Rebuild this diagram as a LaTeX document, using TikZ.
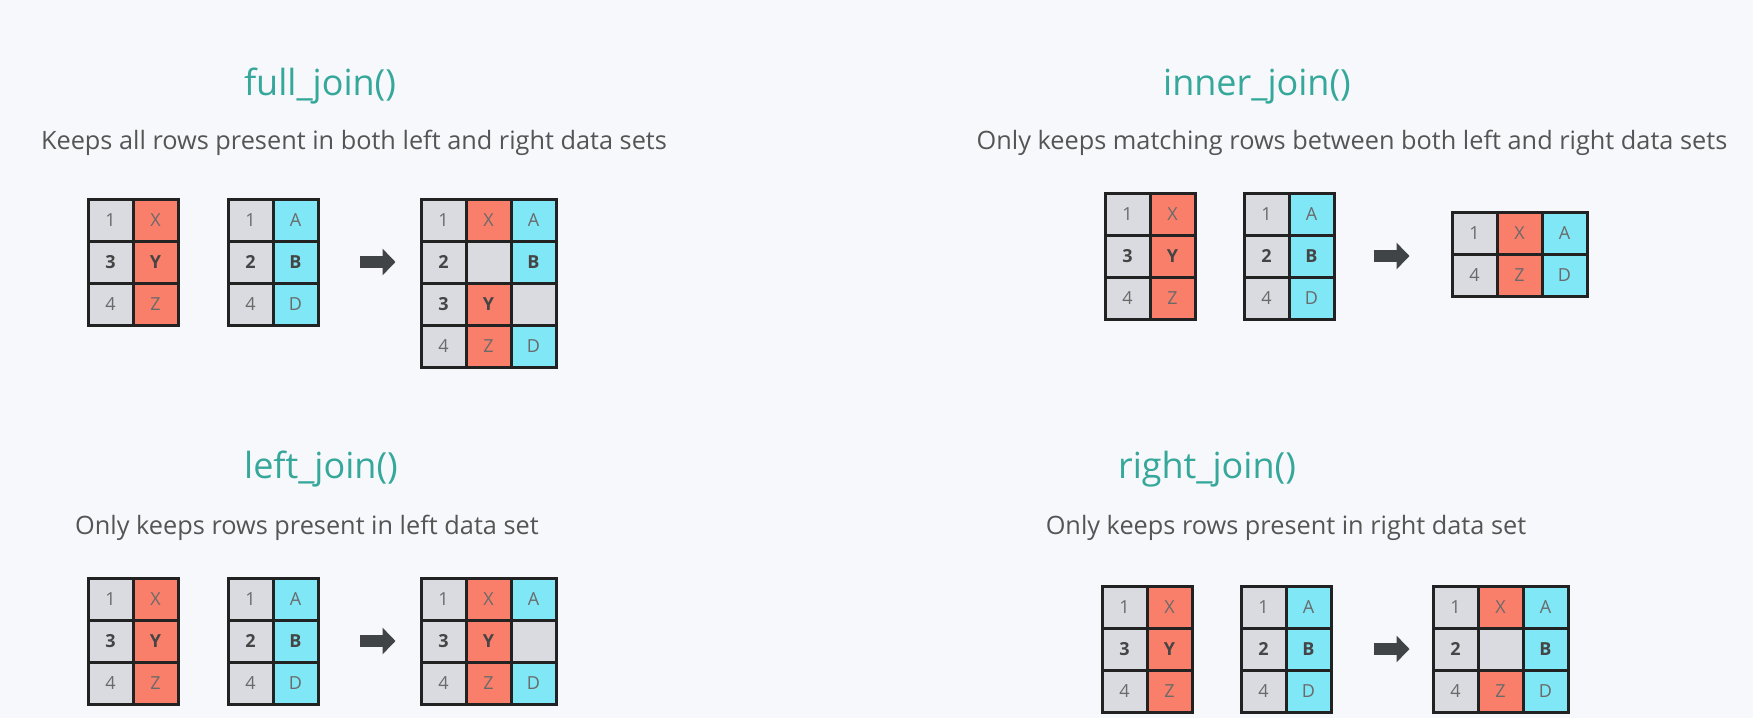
\documentclass[tikz,border=0pt]{standalone}
\usepackage{fontspec}
\setmainfont{Open Sans}
\usetikzlibrary{matrix, arrows.meta, positioning}

\definecolor{bgcol}{HTML}{F7F8FB}
\definecolor{titlecol}{HTML}{35A89B}
\definecolor{desccol}{HTML}{555555}
\definecolor{cellgray}{HTML}{D9DBE0}
\definecolor{cellred}{HTML}{F97F6B}
\definecolor{cellcyan}{HTML}{7FE7F6}
\definecolor{celltext}{HTML}{6A6A6A}
\definecolor{cellbold}{HTML}{454545}
\definecolor{gridline}{HTML}{222222}
\definecolor{arrowcol}{HTML}{414447}

\begin{document}
\begin{tikzpicture}[
      x=1pt,
      y=-1pt,
      jointitle/.style={
          anchor=base,
          text=titlecol,
          font=\fontsize{36}{40}\selectfont
        },
      joindesc/.style={
          anchor=base,
          text=desccol,
          font=\fontsize{25.3}{29}\selectfont
        },
      cell/.style={
          draw=gridline,
          line width=3pt,
          minimum width=45pt,
          minimum height=42pt,
          inner sep=0pt,
          outer sep=0pt,
          anchor=center,
          text=celltext,
          font=\fontsize{18}{21}\selectfont
        },
      gcell/.style={fill=cellgray},
      rcell/.style={fill=cellred},
      ccell/.style={fill=cellcyan},
      boldcell/.style={
          text=cellbold,
          font=\fontsize{18}{21}\selectfont\bfseries
        },
      tbl/.style={
          matrix of nodes,
          nodes in empty cells,
          anchor=north west,
          inner sep=0pt,
          outer sep=0pt,
          column sep=-3pt,
          row sep=-3pt,
          nodes={cell}
        },
      lefttbl/.style={
          tbl,
          column 1/.style={nodes={gcell}},
          column 2/.style={nodes={rcell}},
          row 2/.style={nodes={boldcell}}
        },
      righttbl/.style={
          tbl,
          column 1/.style={nodes={gcell}},
          column 2/.style={nodes={ccell}},
          row 2/.style={nodes={boldcell}}
        },
      restbl/.style={
          tbl,
          column 1/.style={nodes={gcell}},
          column 2/.style={nodes={rcell}},
          column 3/.style={nodes={ccell}}
        },
      arrow/.style={
          draw=arrowcol,
          line width=12pt,
          -{Triangle[width=26pt,length=13pt]}
        }
    ]

    % Background
    \fill[bgcol] (0,0) rectangle (1753,718);
    \useasboundingbox (0,0) rectangle (1753,718);

    % full_join
    \node[jointitle] (fjtitle) at (320,95) {full\_join()};
    \node[joindesc] (fjdesc) at (354,149) {Keeps all rows present in both left and right data sets};
    \matrix[lefttbl] (fja) at (86.5,197.5) {
      1 & X \\
      3 & Y \\
      4 & Z \\
    };
    \matrix[righttbl] (fjb) at (226.5,197.5) {
      1 & A \\
      2 & B \\
      4 & D \\
    };
    \matrix[restbl, row 2/.style={nodes={boldcell}}, row 3/.style={nodes={boldcell}}] (fjr) at (419.5,197.5) {
      1 & X & A \\
      2 & |[gcell]| {} & B \\
      3 & Y & |[gcell]| {} \\
      4 & Z & D \\
    };

    % inner_join
    \node[jointitle] (ijtitle) at (1257,95) {inner\_join()};
    \node[joindesc] (ijdesc) at (1352,149) {Only keeps matching rows between both left and right data sets};
    \matrix[lefttbl] (ija) at (1103.5,191.5) {
      1 & X \\
      3 & Y \\
      4 & Z \\
    };
    \matrix[righttbl] (ijb) at (1242.5,191.5) {
      1 & A \\
      2 & B \\
      4 & D \\
    };
    \matrix[restbl] (ijr) at (1450.5,210.5) {
      1 & X & A \\
      4 & Z & D \\
    };

    % left_join
    \node[jointitle] (ljtitle) at (321,478) {left\_join()};
    \node[joindesc] (ljdesc) at (307,534) {Only keeps rows present in left data set};
    \matrix[lefttbl] (lja) at (86.5,576.5) {
      1 & X \\
      3 & Y \\
      4 & Z \\
    };
    \matrix[righttbl] (ljb) at (226.5,576.5) {
      1 & A \\
      2 & B \\
      4 & D \\
    };
    \matrix[restbl, row 2/.style={nodes={boldcell}}] (ljr) at (419.5,576.5) {
      1 & X & A \\
      3 & Y & |[gcell]| {} \\
      4 & Z & D \\
    };

    % right_join
    \node[jointitle] (rjtitle) at (1207,478) {right\_join()};
    \node[joindesc] (rjdesc) at (1286,534) {Only keeps rows present in right data set};
    \matrix[lefttbl] (rja) at (1100.5,584.5) {
      1 & X \\
      3 & Y \\
      4 & Z \\
    };
    \matrix[righttbl] (rjb) at (1239.5,584.5) {
      1 & A \\
      2 & B \\
      4 & D \\
    };
    \matrix[restbl, row 2/.style={nodes={boldcell}}] (rjr) at (1431.5,584.5) {
      1 & X & A \\
      2 & |[gcell]| {} & B \\
      4 & Z & D \\
    };

    % Arrows
    \draw[arrow, shorten <=40pt, shorten >=24pt] (fjb.east) -- (fjb.east -| fjr.west);
    \draw[arrow, shorten <=38pt, shorten >=41pt] (ijb.east) -- (ijb.east -| ijr.west);
    \draw[arrow, shorten <=40pt, shorten >=24pt] (ljb.east) -- (ljb.east -| ljr.west);
    \draw[arrow, shorten <=41pt, shorten >=22pt] (rjb.east) -- (rjb.east -| rjr.west);

  \end{tikzpicture}
\end{document}
